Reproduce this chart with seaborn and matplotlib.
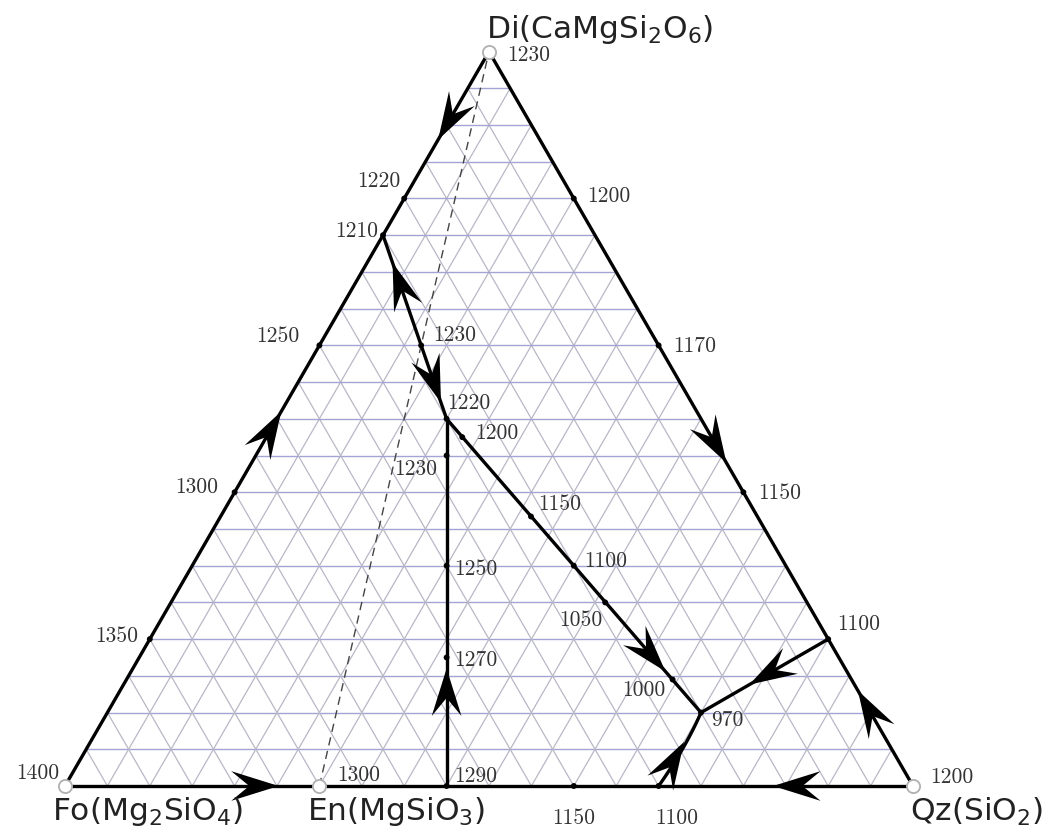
import numpy as np
import matplotlib
matplotlib.use("Agg")
import matplotlib.pyplot as plt
import seaborn as sns

# ternary coordinates: q = share towards Qz along the base, d = share of Di
vertex_names = ['Fo(Mg$_2$SiO$_4$)', 'En(MgSiO$_3$)', 'Qz(SiO$_2$)', 'Di(CaMgSi$_2$O$_6$)']
vertex_q = [0.0, 0.3, 1.0, 0.0]
vertex_d = [0.0, 0.0, 0.0, 1.0]
vertex_T = [1400, 1300, 1200, 1230]

# temperatures marked along the Fo-Di side
left_d = [0.2, 0.4, 0.6, 0.75, 0.8]
left_T = [1350, 1300, 1250, 1210, 1220]
# along the Di-Qz side
right_d = [0.8, 0.6, 0.4, 0.2]
right_T = [1200, 1170, 1150, 1100]
# along the Fo-Qz side
base_q = [0.45, 0.6, 0.7]
base_T = [1290, 1150, 1100]
# inside the triangle
inner_q = [0.12, 0.2, 0.225, 0.3, 0.3625, 0.231, 0.366, 0.45, 0.512, 0.644, 0.7]
inner_d = [0.6, 0.5, 0.45, 0.3, 0.175, 0.475, 0.367, 0.3, 0.25, 0.145, 0.1]
inner_T = [1230, 1220, 1230, 1250, 1270, 1200, 1150, 1100, 1050, 1000, 970]

# boundary curves (q, d) between invariant points
curve_max_q = [0.0, 0.12, 0.2]            # 1210 -> 1230 max -> 1220
curve_max_d = [0.75, 0.6, 0.5]
curve_vert_q = [0.45, 0.2]                # 1290 -> 1220
curve_vert_d = [0.0, 0.5]
curve_diag_q = [0.2, 0.7]                 # 1220 -> 970
curve_diag_d = [0.5, 0.1]
curve_right_q = [0.8, 0.7]                # 1100 (Di-Qz) -> 970
curve_right_d = [0.2, 0.1]
curve_base_q = [0.7, 0.703, 0.7]          # 1100 (Fo-Qz) -> 970
curve_base_d = [0.0, 0.05, 0.1]

# arrows: start (q, d), end (q, d), fraction along the segment for the tip
arrow_from_q = [0.0, 0.0, 0.0, 1.0, 0.0, 1.0, 0.45, 0.12, 0.12, 0.2, 0.8, 0.7]
arrow_from_d = [1.0, 0.0, 1.0, 0.0, 0.0, 0.0, 0.0, 0.6, 0.6, 0.5, 0.2, 0.0]
arrow_to_q = [0.0, 0.0, 0.8, 0.8, 0.45, 0.7, 0.2, 0.0, 0.2, 0.7, 0.7, 0.7]
arrow_to_d = [0.75, 0.75, 0.2, 0.2, 0.0, 0.0, 0.5, 0.75, 0.5, 0.1, 0.1, 0.1]
arrow_frac = [0.48, 0.68, 0.7, 0.65, 0.56, 0.55, 0.32, 0.75, 0.78, 0.86, 0.62, 0.6]

H = np.sqrt(3) / 2


def xy(q, d):
    q = np.asarray(q, dtype=float)
    d = np.asarray(d, dtype=float)
    return q + d / 2, d * H


def stealth(ax, tip, direction, length=0.056, width=0.035):
    u = direction / np.hypot(*direction)
    p = np.array([-u[1], u[0]])
    back = tip - length * u
    pts = np.array([tip, back + width / 2 * p, tip - 0.62 * length * u,
                    back - width / 2 * p])
    ax.fill(pts[:, 0], pts[:, 1], color='black', zorder=6, lw=0)


sns.set_style('white')
fig = plt.figure(figsize=(10.47, 8.37), dpi=100)
ax = fig.add_axes([0, 0, 1, 1])
ax.set_xlim(-65 / 848, (1047 - 65) / 848)
ax.set_ylim(-50 / 848, (837 - 50) / 848)
ax.axis('off')

# grid, 5 % steps
steps = np.arange(1, 20) / 20
for s in steps:
    x, y = xy([0, 1 - s], [s, s])
    ax.plot(x, y, color='#a4a4d4', lw=1.0, zorder=1)
    x, y = xy([s, s], [0, 1 - s])
    ax.plot(x, y, color='#b8b8c6', lw=0.9, zorder=1)
    x, y = xy([0, 1 - s], [1 - s, 0])
    ax.plot(x, y, color='#b8b8c6', lw=0.9, zorder=1)

# Di-En join
x, y = xy([vertex_q[1], vertex_q[3]], [vertex_d[1], vertex_d[3]])
ax.plot(x, y, color='#444444', lw=1.0, ls=(0, (6, 4)), zorder=2)

# triangle sides and boundary curves
lines = [([0, 1], [0, 0]), ([0, 0], [0, 1]), ([0, 1], [1, 0]),
         (curve_max_q, curve_max_d), (curve_vert_q, curve_vert_d),
         (curve_diag_q, curve_diag_d), (curve_right_q, curve_right_d),
         (curve_base_q, curve_base_d)]
for lq, ld in lines:
    x, y = xy(lq, ld)
    if len(lq) > 2:
        t = np.linspace(0, 1, 40)
        cx = (1 - t) ** 2 * x[0] + 2 * t * (1 - t) * (2 * x[1] - (x[0] + x[2]) / 2) + t ** 2 * x[2]
        cy = (1 - t) ** 2 * y[0] + 2 * t * (1 - t) * (2 * y[1] - (y[0] + y[2]) / 2) + t ** 2 * y[2]
        x, y = cx, cy
    sns.lineplot(x=x, y=y, sort=False, estimator=None, color='black', lw=2.4,
                 ax=ax, zorder=4)

# arrows
for fq, fd, tq, td, fr in zip(arrow_from_q, arrow_from_d, arrow_to_q, arrow_to_d, arrow_frac):
    x0, y0 = xy(fq, fd)
    x1, y1 = xy(tq, td)
    tip = np.array([x0 + fr * (x1 - x0), y0 + fr * (y1 - y0)])
    stealth(ax, tip, np.array([x1 - x0, y1 - y0]))

# points
all_q = list(np.zeros(len(left_d))) + [1 - d for d in right_d] + base_q + inner_q
all_d = left_d + right_d + list(np.zeros(len(base_q))) + inner_d
x, y = xy(all_q, all_d)
sns.scatterplot(x=x, y=y, color='black', s=18, edgecolor='none', ax=ax, zorder=7)
x, y = xy(vertex_q, vertex_d)
sns.scatterplot(x=x, y=y, color='white', s=90, edgecolor='#b0b0b0', linewidth=1.3,
                ax=ax, zorder=8)

# temperature labels: offsets in pixels and alignment
tfont = dict(family='cmr10', size=15.5, color='#333333')
all_T = left_T + right_T + base_T + inner_T
offsets = [(-12, 4, 'right'), (-16, 6, 'right'), (-20, 10, 'right'), (-5, 5, 'right'),
           (-4, 18, 'right'),
           (13, 3, 'left'), (15, 0, 'left'), (15, 0, 'left'), (9, 16, 'left'),
           (8, 11, 'left'), (0, -31, 'center'), (18, -31, 'center'),
           (12, 11, 'left'), (1, 17, 'left'), (-9, -13, 'right'), (8, -3, 'left'),
           (8, -2, 'left'), (13, 5, 'left'), (7, 13, 'left'), (10, 5, 'left'),
           (-3, -17, 'right'), (-7, -10, 'right'), (10, -7, 'left')]
x, y = xy(all_q, all_d)
for xi, yi, T, (dx, dy, ha) in zip(x, y, all_T, offsets):
    ax.annotate(str(T), (xi, yi), xytext=(dx * 0.72, dy * 0.72), textcoords='offset points',
                ha=ha, va='center', zorder=9, **tfont)

vx, vy = xy(vertex_q, vertex_d)
v_offsets = [(-6, 14, 'right'), (18, 12, 'left'), (17, 10, 'left'), (18, -3, 'left')]
for xi, yi, T, (dx, dy, ha) in zip(vx, vy, vertex_T, v_offsets):
    ax.annotate(str(T), (xi, yi), xytext=(dx * 0.72, dy * 0.72), textcoords='offset points',
                ha=ha, va='center', zorder=9, **tfont)

# component names
n_offsets = [(-13, -25), (-12, -25), (-3, -25), (-3, 23)]
for xi, yi, name, (dx, dy) in zip(vx, vy, vertex_names, n_offsets):
    ax.annotate(name, (xi, yi), xytext=(dx * 0.72, dy * 0.72), textcoords='offset points',
                ha='left', va='center', fontsize=22.5, family='DejaVu Sans', color='#222222',
                zorder=9)

fig.savefig('out.png', dpi=100)
